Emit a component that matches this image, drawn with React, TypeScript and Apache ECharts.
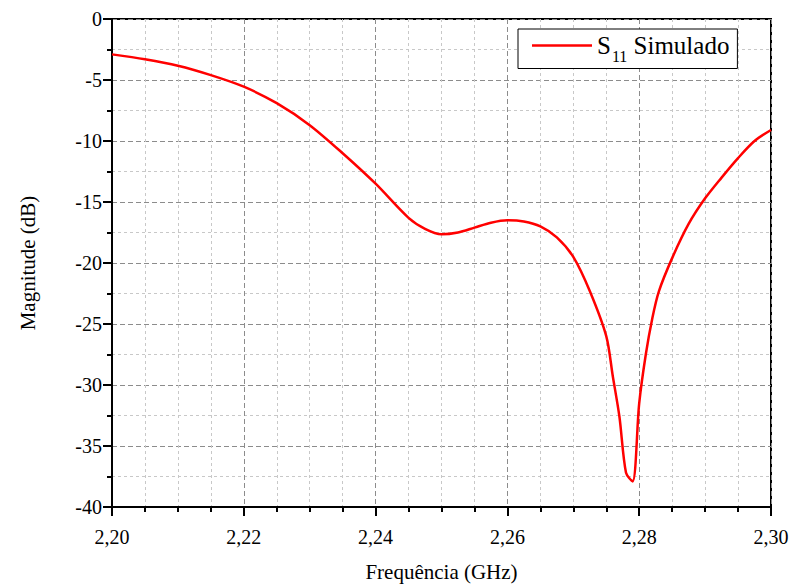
import React, { useEffect, useRef } from "react";
import * as echarts from "echarts";

const frequencyGHz = [
  2.2, 2.205, 2.21, 2.215, 2.22, 2.225, 2.23, 2.235, 2.24, 2.245, 2.2475, 2.25,
  2.2525, 2.255, 2.2575, 2.26, 2.2625, 2.265, 2.2675, 2.27, 2.2725, 2.275,
  2.276, 2.277, 2.278, 2.279, 2.28, 2.281, 2.282, 2.283, 2.285, 2.2875,
  2.29, 2.2925, 2.295, 2.2975, 2.3,
];
const s11Simulated = [
  -2.9, -3.3, -3.83, -4.6, -5.55, -6.9, -8.7, -11.0, -13.5, -16.3, -17.2, -17.65,
  -17.5, -17.1, -16.7, -16.5, -16.6, -17.0, -17.9, -19.5, -22.3, -26.0,
  -29.3, -32.6, -37.2, -37.9, -31.5, -27.5, -24.5, -22.3, -19.6, -16.8,
  -14.7, -13.0, -11.4, -10.0, -9.1,
];
const xTicks = { min: 2.2, max: 2.3, interval: 0.02 };
const yTicks = { min: -40, max: 0, interval: 5 };
const seriesName = "S11 Simulado";
const xTitle = "Frequência (GHz)";
const yTitle = "Magnitude (dB)";

const FONT = "Liberation Serif";

export default function App() {
  const ref = useRef<HTMLDivElement>(null);
  useEffect(() => {
    if (!ref.current) return;
    const chart = echarts.init(ref.current, undefined, { renderer: "svg" });
    const data = frequencyGHz.map((f, i) => [f, s11Simulated[i]]);
    chart.setOption({
      animation: false,
      backgroundColor: "#fff",
      textStyle: { fontFamily: FONT },
      grid: {
        left: 112,
        top: 19,
        right: 21,
        bottom: 80,
        show: true,
        borderColor: "#000",
        borderWidth: 2,
        backgroundColor: "transparent",
        outerBoundsMode: "none",
        containLabel: false,
      },
      legend: {
        show: true,
        left: 518,
        top: 29,
        orient: "horizontal",
        selectedMode: false,
        borderColor: "#000",
        borderWidth: 1,
        padding: [4, 8, 4, 14],
        itemWidth: 60,
        itemHeight: 2.5,
        icon: "rect",
        itemStyle: { color: "#ff0000" },
        backgroundColor: "#fff",
        data: [{ name: seriesName }],
        formatter: () => "{a|S}{b|11}{a| Simulado}",
        textStyle: {
          color: "#000",
          fontFamily: FONT,
          rich: {
            a: { fontSize: 25, fontFamily: FONT, color: "#000" },
            b: { fontSize: 16, fontFamily: FONT, color: "#000", padding: [22, 0, 0, 1] },
          },
        },
      },
      xAxis: {
        type: "value",
        min: xTicks.min,
        max: xTicks.max,
        interval: xTicks.interval,
        name: xTitle,
        nameLocation: "middle",
        nameGap: 54,
        nameTextStyle: { fontFamily: FONT, fontSize: 21, color: "#000" },
        axisLine: { show: true, onZero: false, lineStyle: { color: "#000", width: 2 } },
        axisTick: { show: true, inside: false, length: 9, lineStyle: { color: "#000", width: 2 } },
        minorTick: { show: true, splitNumber: 4, length: 5, lineStyle: { color: "#000", width: 2 } },
        axisLabel: {
          show: true,
          margin: 20,
          fontFamily: FONT,
          fontSize: 20,
          color: "#000",
          formatter: (v: number) => v.toFixed(2).replace(".", ","),
        },
        splitLine: { show: true, lineStyle: { color: "#8c8c8c", type: [5, 3], width: 1 } },
        minorSplitLine: { show: true, lineStyle: { color: "#c8c8c8", type: [3, 3], width: 1 } },
      },
      yAxis: {
        type: "value",
        min: yTicks.min,
        max: yTicks.max,
        interval: yTicks.interval,
        name: yTitle,
        nameLocation: "middle",
        nameGap: 74,
        nameRotate: 90,
        nameTextStyle: { fontFamily: FONT, fontSize: 21, color: "#000" },
        axisLine: { show: true, onZero: false, lineStyle: { color: "#000", width: 2 } },
        axisTick: { show: true, inside: false, length: 9, lineStyle: { color: "#000", width: 2 } },
        minorTick: { show: true, splitNumber: 2, length: 5, lineStyle: { color: "#000", width: 2 } },
        axisLabel: {
          show: true,
          margin: 10,
          fontFamily: FONT,
          fontSize: 20,
          color: "#000",
        },
        splitLine: { show: true, lineStyle: { color: "#8c8c8c", type: [5, 3], width: 1 } },
        minorSplitLine: { show: true, lineStyle: { color: "#c8c8c8", type: [3, 3], width: 1 } },
      },
      series: [
        {
          name: seriesName,
          type: "line",
          data,
          showSymbol: false,
          symbol: "none",
          smooth: 0.3,
          lineStyle: { color: "#ff0000", width: 2.5 },
          itemStyle: { color: "#ff0000" },
          z: 5,
        },
      ],
    });
    return () => chart.dispose();
  }, []);
  return (
    <div
      ref={ref}
      style={{ position: "fixed", left: 0, top: 0, width: 792, height: 587 }}
    />
  );
}
